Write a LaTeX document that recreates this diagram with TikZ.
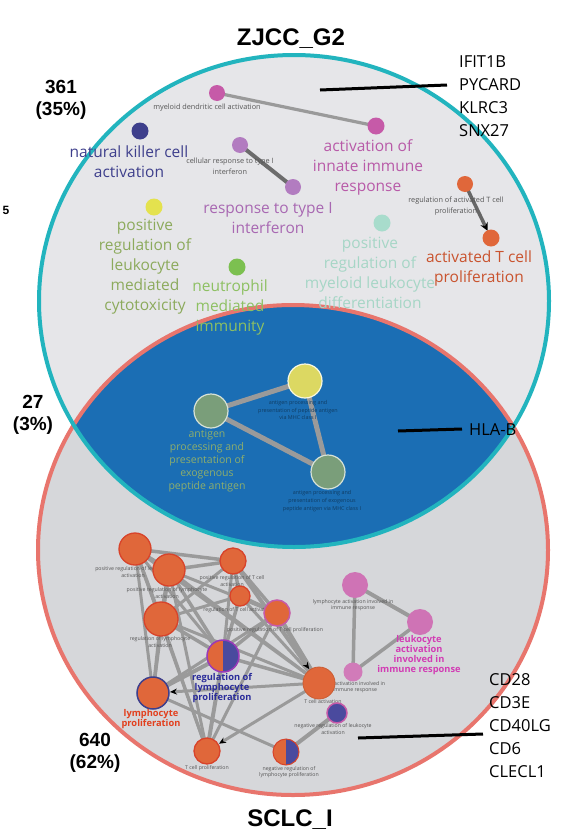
\documentclass[tikz,border=0pt]{standalone}
\usepackage{fontspec}
\setmainfont{Liberation Sans}
\newfontfamily\lab{Open Sans}
\usetikzlibrary{arrows.meta,calc}
\definecolor{topfill}{HTML}{E6E6E9}
\definecolor{botfill}{HTML}{D6D7DA}
\definecolor{lensblue}{HTML}{1B6EB4}
\definecolor{tealc}{HTML}{22B4BE}
\definecolor{redc}{HTML}{E8756D}
\definecolor{edgegray}{HTML}{9A9A9A}
\definecolor{magn}{HTML}{C65AA8}
\definecolor{magtxt}{HTML}{B85AA8}
\definecolor{nkblue}{HTML}{3E3F8C}
\definecolor{purp}{HTML}{B27CC0}
\definecolor{purptxt}{HTML}{A868B2}
\definecolor{orng}{HTML}{E0673A}
\definecolor{orngline}{HTML}{D8432A}
\definecolor{orngtxt}{HTML}{C9532E}
\definecolor{yel}{HTML}{E4E24E}
\definecolor{olive}{HTML}{8CAA5C}
\definecolor{grn}{HTML}{7CC050}
\definecolor{grntxt}{HTML}{8DC062}
\definecolor{mint}{HTML}{A8DCCC}
\definecolor{minttxt}{HTML}{A6D6C6}
\definecolor{lensyel}{HTML}{DCD862}
\definecolor{lensgrn}{HTML}{7A9E7A}
\definecolor{lenstxt}{HTML}{8EAE6C}
\definecolor{smalltxt}{HTML}{555555}
\definecolor{boldblue}{HTML}{2A2C9A}
\definecolor{boldred}{HTML}{E2401E}
\definecolor{boldmag}{HTML}{D23CB4}
\definecolor{halfblue}{HTML}{4A4A9E}
\definecolor{outlinep}{HTML}{9A3AB8}
\tikzset{
  dot/.style={circle, inner sep=0pt, minimum size=#1},
  bigtxt/.style={font=\lab\fontsize{15.5}{20}\selectfont, align=center, inner sep=0pt},
  smalltxt/.style={font=\lab\fontsize{7.3}{11}\selectfont, align=center, inner sep=0pt, text=smalltxt},
  tinytxt/.style={font=\lab\fontsize{5.2}{6.6}\selectfont, align=center, inner sep=0pt, text=smalltxt},
  lenssmall/.style={font=\lab\fontsize{5.4}{7.6}\selectfont, align=center, inner sep=0pt, text=lensblue!55!black},
  boldlab/.style={font=\lab\bfseries\fontsize{9.3}{10.2}\selectfont, align=center, inner sep=0pt},
  genes/.style={font=\lab\fontsize{16.5}{23}\selectfont, align=left, inner sep=0pt, anchor=west},
  count/.style={font=\bfseries\fontsize{19}{22}\selectfont, align=center, inner sep=0pt},
  title/.style={font=\bfseries\fontsize{24}{26}\selectfont, inner sep=0pt},
  leader/.style={draw=black, line width=3pt},
  netedge/.style={draw=edgegray, line width=#1},
  netedge/.default=3.5pt,
  orngdot/.style={dot=#1, fill=orng, draw=orngline, line width=1.3pt},
}
\begin{document}
\begin{tikzpicture}[x=1pt,y=-1pt]
\useasboundingbox (0,0) rectangle (583,838);
\fill[white] (0,0) rectangle (583,838);

% Venn ellipses
\fill[botfill] (293,550) ellipse[x radius=255, y radius=245];
\fill[topfill] (294,301) ellipse[x radius=255, y radius=246];
\begin{scope}
  \clip (294,301) ellipse[x radius=255, y radius=246];
  \fill[lensblue] (293,550) ellipse[x radius=255, y radius=245];
\end{scope}
\draw[redc, line width=4pt] (293,550) ellipse[x radius=255, y radius=245];
\draw[tealc, line width=4pt] (294,301) ellipse[x radius=255, y radius=246];

% Titles and counts
\node[title] (t1) at (291,39) {ZJCC\_G2};
\node[title] (t2) at (290,820) {SCLC\_I};
\node[count] (c1) at (61,100) {361\\(35\%)};
\node[count] (c2) at (33,415) {27\\(3\%)};
\node[count] (c3) at (95,753) {640\\(62\%)};
\node[font=\bfseries\fontsize{12}{12}\selectfont, inner sep=0pt] (c4) at (6,210) {5};

% gene lists
\node[genes] (g1) at (459,96) {IFIT1B\\PYCARD\\KLRC3\\SNX27};
\node[genes] (g2) at (469,430) {HLA-B};
\node[genes] (g3) at (489,726) {CD28\\CD3E\\CD40LG\\CD6\\CLECL1};
\coordinate (l1a) at (320,90);
\coordinate (l1b) at (447,85);
\coordinate (l2a) at (398,431);
\coordinate (l2b) at (462,429);
\coordinate (l3a) at (358,738);
\coordinate (l3b) at (483,734);
\draw[leader] (l1a) -- (l1b);
\draw[leader] (l2a) -- (l2b);
\draw[leader] (l3a) -- (l3b);

% ---------- top circle network ----------
\coordinate (myel) at (217,93);
\coordinate (innate) at (376,126);
\coordinate (cell1) at (240,145);
\coordinate (resp1) at (293,187);
\coordinate (regT) at (465,184);
\coordinate (actT) at (491,238);
\draw[netedge=3.2pt] (myel) -- (innate);
\draw[draw=gray!85!black, line width=4pt] (cell1) -- (resp1);
\draw[draw=gray!80!black, line width=3.5pt, -{Stealth[length=8pt,width=8pt,black]}] (regT) -- ($(actT)!8pt!(regT)$);

\node[dot=16, fill=magn] (nmyel) at (myel) {};
\node[dot=17, fill=magn] (ninnate) at (innate) {};
\node[dot=17, fill=nkblue] (nk) at (140,131) {};
\node[dot=16, fill=purp] (ncell1) at (cell1) {};
\node[dot=16, fill=purp] (nresp1) at (resp1) {};
\node[dot=16, fill=orng] (nregT) at (regT) {};
\node[dot=17, fill=orng] (nactT) at (actT) {};
\node[dot=17, fill=yel] (posreg) at (154,207) {};
\node[dot=17, fill=grn] (neut) at (237,267) {};
\node[dot=17, fill=mint] (myeld) at (382,223) {};

\node[smalltxt] (myelL) at (207,108) {myeloid dendritic cell activation};
\node[smalltxt] (cell1L) at (230,166) {cellular response to type I\\interferon};
\node[smalltxt] (regTL) at (456,206) {regulation of activated T cell\\proliferation};
\node[bigtxt, text=magtxt] (innateL) at (368,167) {activation of\\innate immune\\response};
\node[bigtxt, text=nkblue] (nkL) at (129,162) {natural killer cell\\activation};
\node[bigtxt, text=purptxt] (resp1L) at (268,218) {response to type I\\interferon};
\node[bigtxt, text=olive] (posregL) at (145,267) {positive\\regulation of\\leukocyte\\mediated\\cytotoxicity};
\node[bigtxt, text=grntxt] (neutL) at (230,307) {neutrophil\\mediated\\immunity};
\node[bigtxt, text=minttxt] (myeldL) at (370,273) {positive\\regulation of\\myeloid leukocyte\\differentiation};
\node[bigtxt, text=orngtxt] (actTL) at (479,268) {activated T cell\\proliferation};

% ---------- lens network ----------
\coordinate (ly) at (305,381);
\coordinate (lg1) at (211,411);
\coordinate (lg2) at (328,472);
\draw[netedge=5pt] (ly) -- (lg1);
\draw[netedge=5pt] (ly) -- (lg2);
\draw[netedge=5pt] (lg1) -- (lg2);
\node[dot=34, fill=lensyel, draw=white!80!lensyel, line width=1.2pt] (nly) at (ly) {};
\node[dot=34, fill=lensgrn, draw=white!70!lensgrn, line width=1.2pt] (nlg1) at (lg1) {};
\node[dot=34, fill=lensgrn, draw=white!70!lensgrn, line width=1.2pt] (nlg2) at (lg2) {};
\node[lenssmall] (lyL) at (298,410) {antigen processing and\\presentation of peptide antigen\\via MHC class I};
\node[lenssmall] (lg2L) at (322,501) {antigen processing and\\presentation of exogenous\\peptide antigen via MHC class I};
\node[font=\lab\fontsize{10.5}{13.2}\selectfont, align=center, inner sep=0pt, text=lenstxt] (lg1L) at (207,461) {antigen\\processing and\\presentation of\\exogenous\\peptide antigen};

% ---------- bottom network ----------
\coordinate (A) at (135,549);
\coordinate (B) at (169,570);
\coordinate (C) at (233,561);
\coordinate (D) at (240,596);
\coordinate (E) at (277,613);
\coordinate (F) at (161,619);
\coordinate (G) at (223,656);
\coordinate (H) at (153,693);
\coordinate (I) at (319,683);
\coordinate (J) at (207,751);
\coordinate (K) at (286,752);
\coordinate (L) at (337,713);
\coordinate (M1) at (355,585);
\coordinate (M2) at (420,622);
\coordinate (M3) at (353,672);

\draw[netedge=4pt] (A) -- (B);
\draw[netedge] (A) -- (C);
\draw[netedge] (A) -- (F);
\draw[netedge=3pt] (A) -- (H);
\draw[netedge=3pt] (A) -- (J);
\draw[netedge=3pt] (A) -- (G);
\draw[netedge=3pt] (A) -- (I);
\draw[netedge] (B) -- (C);
\draw[netedge=4pt] (B) -- (F);
\draw[netedge] (B) -- (G);
\draw[netedge=3pt] (B) -- (H);
\draw[netedge=3pt] (B) -- (J);
\draw[netedge=3pt] (B) -- (I);
\draw[netedge=3pt] (B) -- (E);
\draw[netedge] (C) -- (D);
\draw[netedge] (C) -- (E);
\draw[netedge=3pt] (C) -- (G);
\draw[netedge=3pt] (C) -- (F);
\draw[netedge] (D) -- (E);
\draw[netedge] (D) -- (G);
\draw[netedge=3pt] (D) -- (F);
\draw[netedge=3pt] (D) -- (I);
\draw[netedge] (E) -- (G);
\draw[netedge=4.5pt] (E) -- (I);
\draw[netedge=3pt] (E) -- (J);
\draw[netedge=3pt] (E) -- (H);
\draw[netedge] (F) -- (G);
\draw[netedge] (F) -- (H);
\draw[netedge=3pt] (F) -- (J);
\draw[netedge=3pt] (F) -- (I);
\draw[netedge=4pt] (G) -- (H);
\draw[netedge] (G) -- (I);
\draw[netedge=4pt] (G) -- (J);
\draw[netedge=3pt] (H) -- (K);
\draw[netedge=4pt] (K) -- (L);
\draw[netedge=4pt] (M1) -- (M2);
\draw[netedge=3.5pt] (M1) -- (M3);
\draw[netedge=3.5pt] (M2) -- (M3);
% edges with arrowheads
\draw[netedge=4pt, -{Stealth[length=7pt,width=6pt,black]}] (C) -- ($(I)!17pt!(C)$);
\draw[netedge=3pt, -{Stealth[length=7pt,width=6pt,black]}] (I) -- ($(H)!17pt!(I)$);
\draw[netedge=3pt, -{Stealth[length=7pt,width=6pt,black]}] (I) -- ($(J)!14pt!(I)$);

% small labels (before nodes)
\node[tinytxt] (AL) at (133,572) {positive regulation of leukocyte\\activation};
\node[tinytxt] (BL) at (167,593) {positive regulation of lymphocyte\\activation};
\node[tinytxt] (CL) at (232,581) {positive regulation of T cell\\activation};
\node[tinytxt] (DL) at (238,610) {regulation of T cell activation};
\node[tinytxt] (EL) at (275,630) {positive regulation of T cell proliferation};
\node[tinytxt] (FL) at (160,642) {regulation of lymphocyte\\activation};
\node[tinytxt] (M1L) at (353,605) {lymphocyte activation involved in\\immune response};
\node[tinytxt] (M3L) at (355,687) {cell activation involved in\\immune response};
\node[tinytxt] (IL) at (323,702) {T cell activation};
\node[tinytxt] (LL) at (333,729) {negative regulation of leukocyte\\activation};
\node[tinytxt] (JL) at (207,768) {T cell proliferation};
\node[tinytxt] (KL) at (289,772) {negative regulation of\\lymphocyte proliferation};

% nodes
\node[orngdot=32] (nA) at (A) {};
\node[orngdot=32] (nB) at (B) {};
\node[orngdot=26] (nC) at (C) {};
\node[orngdot=20] (nD) at (D) {};
\node[dot=26, fill=orng, draw=magn, line width=1.5pt] (nE) at (E) {};
\node[orngdot=34] (nF) at (F) {};
\node[dot=32, fill=orng, draw=outlinep, line width=1.5pt, path picture={\fill[halfblue] (path picture bounding box.north) rectangle (path picture bounding box.south east);}] (nG) at (G) {};
\node[dot=32, fill=orng, draw=nkblue, line width=1.5pt] (nH) at (H) {};
\node[dot=32, fill=orng, draw=orng!90!black, line width=0.8pt] (nI) at (I) {};
\node[orngdot=26] (nJ) at (J) {};
\node[dot=26, fill=orng, draw=orngline, line width=1pt, path picture={\fill[halfblue] (path picture bounding box.north) rectangle (path picture bounding box.south east);}] (nK) at (K) {};
\node[dot=20, fill=halfblue, draw=magn, line width=1.5pt] (nL) at (L) {};
\node[dot=26, fill=magn!85!white] (nM1) at (M1) {};
\node[dot=26, fill=magn!85!white] (nM2) at (M2) {};
\node[dot=19, fill=magn!80!white] (nM3) at (M3) {};

% bold labels
\node[boldlab, text=boldblue] (GL) at (222,688) {regulation of\\lymphocyte\\proliferation};
\node[boldlab, text=boldred] (HL) at (151,719) {lymphocyte\\proliferation};
\node[boldlab, text=boldmag] (M2L) at (419,655) {leukocyte\\activation\\involved in\\immune response};

\end{tikzpicture}
\end{document}
